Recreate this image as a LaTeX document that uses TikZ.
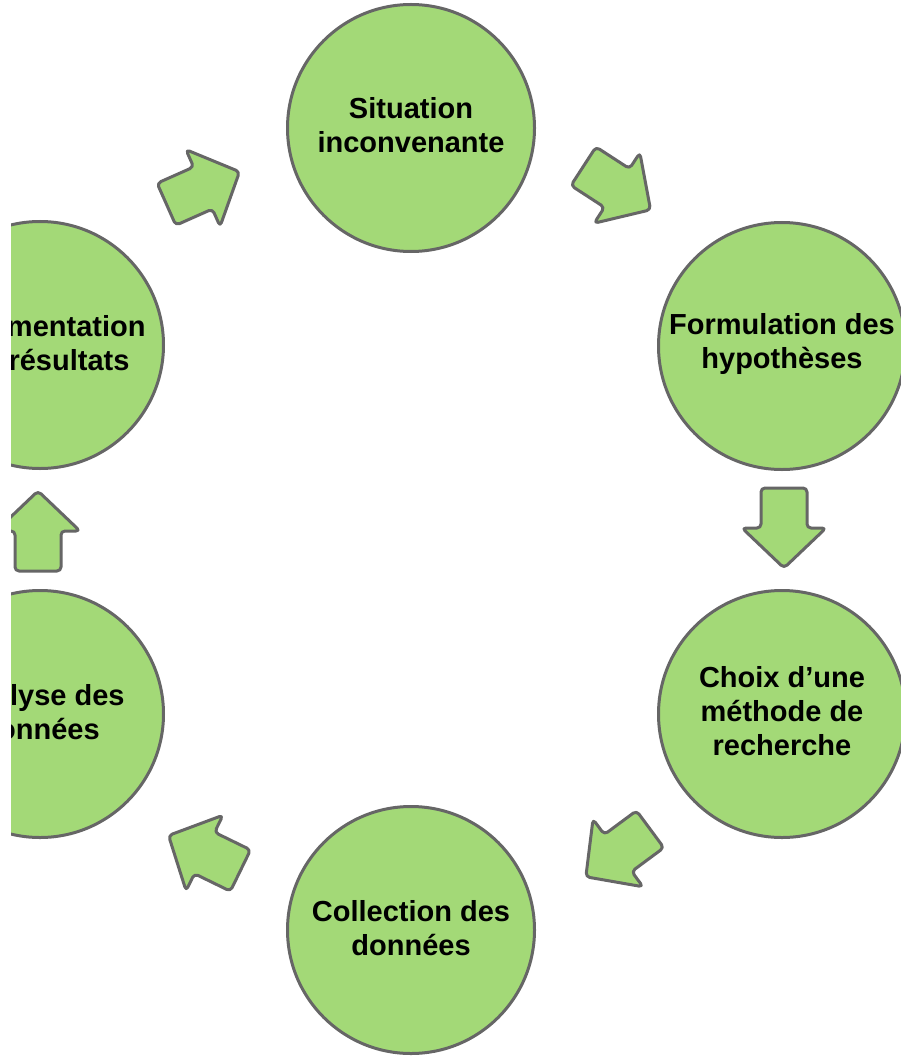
\documentclass[tikz,border=0pt]{standalone}
\usepackage{fontspec}
\setmainfont{Liberation Sans}
\definecolor{stagefill}{HTML}{A3D977}
\definecolor{stageline}{HTML}{666666}
\tikzset{
  stage/.style={circle, draw=stageline, fill=stagefill, line width=3pt,
    minimum size=247pt, inner sep=0pt},
  stagetext/.style={align=center, inner sep=0pt,
    font=\bfseries\fontsize{29}{34}\selectfont},
  blockarrow/.style={draw=stageline, fill=stagefill, line width=3pt,
    rounded corners=4pt, line join=round},
  pics/bigarrow/.style={code={
    \draw[blockarrow] (-40,-23) -- (0,-23) -- (0,-42) -- (40,0) -- (0,42) -- (0,23) -- (-40,23) -- cycle;
  }}
}
\begin{document}
\begin{tikzpicture}[x=1pt, y=-1pt]
\useasboundingbox (0,0) rectangle (901,1059);
\begin{scope}
\clip (11,0) rectangle (901,1059);
\node[stage] (sit) at (411,128) {};
\node[stage] (form) at (782,346) {};
\node[stage] (choix) at (782,714) {};
\node[stage] (coll) at (411,930) {};
\node[stage] (anal) at (40,714) {};
\node[stage] (doc) at (40,345) {};
\node[stagetext] (sitt) at ([yshift=2.5pt]sit.center) {Situation\\inconvenante};
\node[stagetext] (formt) at ([yshift=2pt]form.center) {Formulation des\\hypothèses};
\node[stagetext] (choixt) at ([yshift=3pt]choix.center) {Choix d’une\\méthode de\\recherche};
\node[stagetext] (collt) at ([yshift=2pt]coll.center) {Collection des\\données};
\node[stagetext] (analt) at ([yshift=2pt]anal.center) {Analyse des\\données};
\node[stagetext] (doct) at ([yshift=2pt]doc.center) {Documentation\\des résultats};
\pic[shift={(203,188)}, rotate=24] {bigarrow};
\pic[shift={(617,188)}, rotate=-33] {bigarrow};
\pic[shift={(784,528)}, rotate=-90] {bigarrow};
\pic[shift={(618,853)}, rotate=216.5] {bigarrow};
\pic[shift={(204.5,853)}, rotate=154] {bigarrow};
\pic[shift={(38,531)}, rotate=90] {bigarrow};
\end{scope}
\end{tikzpicture}
\end{document}
